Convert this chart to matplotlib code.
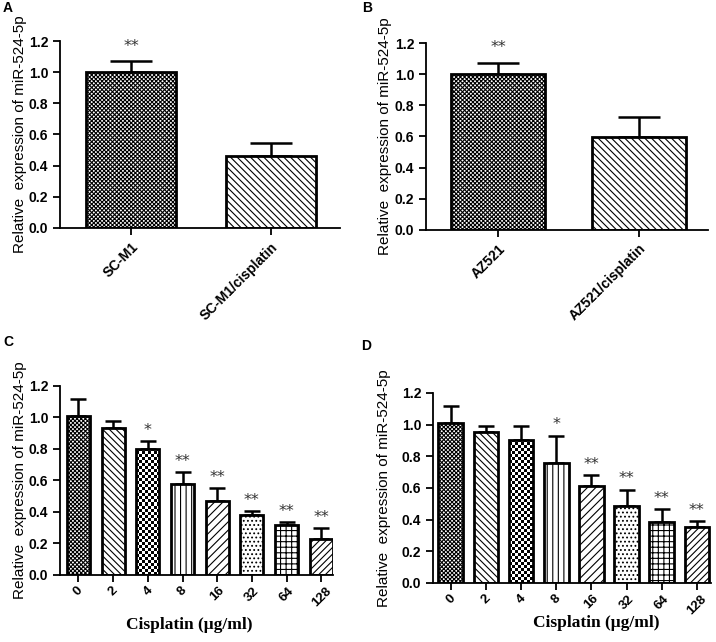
import numpy as np
import matplotlib
matplotlib.use("Agg")
import matplotlib.pyplot as plt

plt.rcParams["font.family"] = ["Liberation Sans", "DejaVu Sans"]
plt.rcParams["hatch.linewidth"] = 0.8

# panel A / B : parental vs cisplatin-resistant cells
a_labels = ["SC-M1", "SC-M1/cisplatin"]
a_means = [1.00, 0.46]
a_err = [0.07, 0.085]
a_stars = ["**", ""]

b_labels = ["AZ521", "AZ521/cisplatin"]
b_means = [1.00, 0.595]
b_err = [0.07, 0.13]
b_stars = ["**", ""]

# panel C / D : cisplatin dose series
doses = ["0", "2", "4", "8", "16", "32", "64", "128"]
c_means = [1.01, 0.93, 0.80, 0.58, 0.47, 0.38, 0.32, 0.23]
c_err = [0.105, 0.045, 0.05, 0.075, 0.08, 0.025, 0.015, 0.065]
c_stars = ["", "", "*", "**", "**", "**", "**", "**"]

d_means = [1.01, 0.95, 0.90, 0.76, 0.61, 0.485, 0.385, 0.355]
d_err = [0.105, 0.04, 0.09, 0.17, 0.07, 0.105, 0.08, 0.035]
d_stars = ["", "", "", "*", "**", "**", "**", "**"]

ylab = "Relative  expression of miR-524-5p"
hatch_two = ["xxxxxxxx", "\\\\\\\\\\"]
hatch_dose = ["xxxxxxxx", "\\\\\\\\\\", "checker", "|||", "////", "....", "+++", "/////"]


def checker(ax, bar, cell_px=3.0):
    # small black/white checkerboard clipped to the bar
    inv = ax.transData.inverted()
    p0 = inv.transform((0, 0))
    p1 = inv.transform((cell_px, cell_px))
    cw, ch = p1[0] - p0[0], p1[1] - p0[1]
    x0, y0 = bar.get_x(), bar.get_y()
    w, h = bar.get_width(), bar.get_height()
    nx = int(w / cw) + 2
    ny = int(h / ch) + 2
    grid = (np.add.outer(np.arange(ny), np.arange(nx)) % 2).astype(float)
    im = ax.imshow(grid, cmap="gray", extent=(x0, x0 + nx * cw, y0, y0 + ny * ch),
                   origin="lower", aspect="auto", interpolation="nearest", zorder=1.9)
    im.set_clip_path(bar)
    bar.set_facecolor("none")


def panel(ax, labels, means, err, stars, hatches, width, capsize, xlim,
          star_off, centered=False):
    x = np.arange(len(means))
    ax.errorbar(x, means, yerr=[np.zeros(len(err)), err], fmt="none",
                ecolor="black", elinewidth=1.8, capsize=capsize, capthick=1.8, zorder=1)
    bars = ax.bar(x, means, width=width, color="white", edgecolor="black",
                  linewidth=2.0, zorder=2)
    ax.set_xlim(*xlim)
    ax.set_ylim(0, 1.2)
    for b, h in zip(bars, hatches):
        if h == "checker":
            checker(ax, b)
        else:
            b.set_hatch(h)
    ax.set_xlim(*xlim)
    ax.set_ylim(0, 1.2)
    for xi, m, e, s in zip(x, means, err, stars):
        if s:
            ax.text(xi, m + e + star_off, s, ha="center", va="bottom",
                    fontsize=11.5, color="#333333", family="DejaVu Sans")
    ax.set_yticks(np.arange(0, 1.21, 0.2))
    ax.set_yticklabels([f"{v:.1f}" for v in np.arange(0, 1.21, 0.2)],
                       fontsize=10, fontweight="bold")
    ax.set_xticks(x)
    if centered:
        ax.set_xticklabels(labels, rotation=45, ha="center", va="top",
                           fontsize=9.5, fontweight="bold")
        ax.tick_params(axis="x", pad=2)
    else:
        ax.set_xticklabels(labels, rotation=45, ha="right", rotation_mode="anchor",
                           fontsize=10, fontweight="bold")
    for sp in ["top", "right"]:
        ax.spines[sp].set_visible(False)
    for sp in ["left", "bottom"]:
        ax.spines[sp].set_linewidth(1.3)
    ax.tick_params(axis="both", width=1.3, length=5, direction="out")
    ax.set_ylabel(ylab, fontsize=11)


fig = plt.figure(figsize=(7.16, 6.42), dpi=100)

axA = fig.add_axes([0.0838, 0.645, 0.391, 0.291])
panel(axA, a_labels, a_means, a_err, a_stars, hatch_two, 0.64, 15,
      (-0.507, 1.493), 0.05)
axA.yaxis.set_label_coords(-0.118, 0.5)

axB = fig.add_axes([0.595, 0.642, 0.394, 0.291])
panel(axB, b_labels, b_means, b_err, b_stars, hatch_two, 0.66, 15,
      (-0.51, 1.49), 0.05)
axB.yaxis.set_label_coords(-0.121, 0.5)

axC = fig.add_axes([0.0838, 0.1044, 0.381, 0.2946])
panel(axC, doses, c_means, c_err, c_stars, hatch_dose, 0.66, 6,
      (-0.53, 7.33), 0.02, centered=True)
axC.yaxis.set_label_coords(-0.121, 0.5)
axC.set_xlabel("Cisplatin (\u03bcg/ml)", fontsize=12.5, fontweight="bold",
               family=["Liberation Serif", "DejaVu Serif"])
axC.xaxis.set_label_coords(0.474, -0.22)

axD = fig.add_axes([0.605, 0.092, 0.388, 0.296])
panel(axD, doses, d_means, d_err, d_stars, hatch_dose, 0.70, 6,
      (-0.5, 7.4), 0.02, centered=True)
axD.yaxis.set_label_coords(-0.151, 0.5)
axD.set_xlabel("Cisplatin (\u03bcg/ml)", fontsize=12.5, fontweight="bold",
               family=["Liberation Serif", "DejaVu Serif"])
axD.xaxis.set_label_coords(0.586, -0.17)

for lab, px, py in [("A", 3, 8), ("B", 362, 8), ("C", 3, 342), ("D", 361, 346)]:
    fig.text(px / 716, 1 - py / 642, lab, fontsize=10, fontweight="bold",
             ha="left", va="center")

fig.savefig("out.png", dpi=100)
